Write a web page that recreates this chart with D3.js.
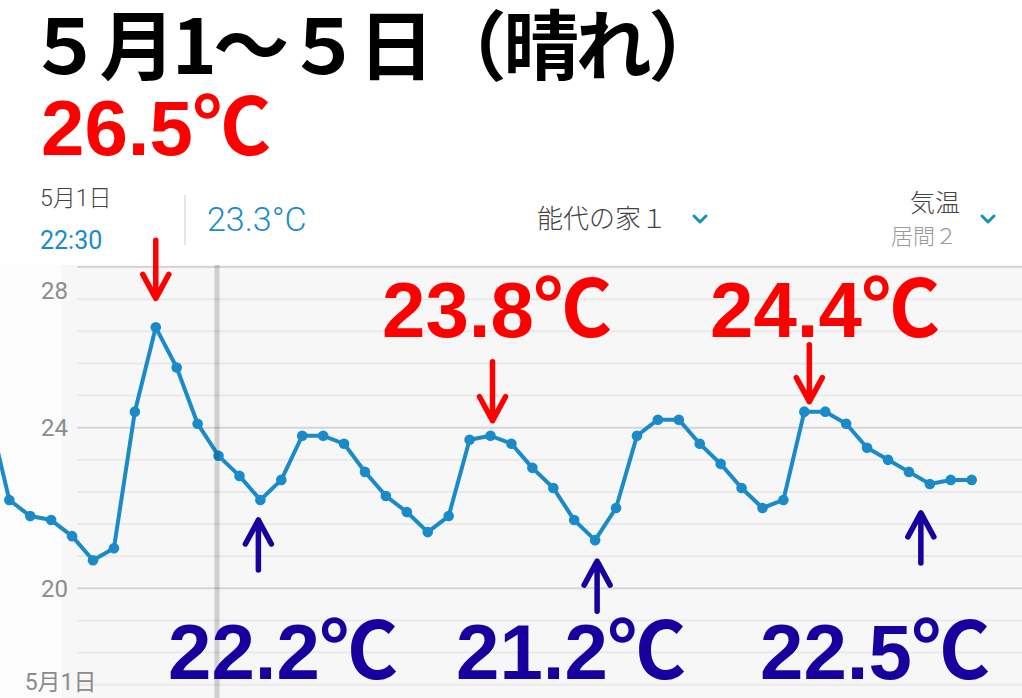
<!DOCTYPE html>
<html><head><meta charset="utf-8">
<script src="https://cdn.jsdelivr.net/npm/d3@7"></script>
<style>body{margin:0;background:#fff;overflow:hidden}</style>
</head><body><svg id="c" width="1022" height="698"></svg>
<script>
// ---- data ----
const temps = [24.4, 22.2, 21.8, 21.7, 21.3, 20.7, 21.0, 24.4, 26.5, 25.5,
               24.1, 23.3, 22.8, 22.2, 22.7, 23.8, 23.8, 23.6, 22.9, 22.3,
               21.9, 21.4, 21.8, 23.7, 23.8, 23.6, 23.0, 22.5, 21.7, 21.2,
               22.0, 23.8, 24.2, 24.2, 23.6, 23.1, 22.5, 22.0, 22.2, 24.4,
               24.4, 24.1, 23.5, 23.2, 22.9, 22.6, 22.7, 22.7];
const startTime = new Date(2019, 3, 30, 13, 30);
const stepHours = 3;
const times = temps.map((_, i) => d3.timeHour.offset(startTime, i * stepHours));
const cursorIndex = 11;
const yGridValues = [17.6, 18.4, 19.2, 20, 20.8, 21.6, 22.4, 23.2, 24, 24.8, 25.6, 26.4, 27.2, 28];
const yMajorValues = [20, 24, 28];
const yTickLabels = ["20", "24", "28"];
const xTickValues = [new Date(2019, 4, 1)];
const xTickLabels = ["5月1日"];
const titleText = "５月1〜５日（晴れ）";
const headerDate = "5月1日", headerTime = "22:30", headerValue = "23.3°C";
const deviceName = "能代の家１", metricName = "気温", roomName = "居間２";
const annIndex = [8, 24, 39, 13, 29, 45];
const annText = ["26.5℃", "23.8℃", "24.4℃", "22.2℃", "21.2℃", "22.5℃"];
const annKind = ["max", "max", "max", "min", "min", "min"];
// ---- layout ----
const annLayout = [
  {dx: 0, gap: 29, len: 58, tx: 41, ty: 155},
  {dx: 2, gap: 15, len: 59, tx: 382, ty: 337},
  {dx: 5, gap: 10, len: 57, tx: 710, ty: 337},
  {dx: -2, gap: 20, len: 50, tx: 168, ty: 679},
  {dx: 2, gap: 21, len: 50, tx: 456, ty: 679},
  {dx: -9, gap: 29, len: 50, tx: 760, ty: 679}
];
const W = 1022, H = 698, chartTop = 265;
const lineColor = "#1a8bc8";

const svg = d3.select("#c");
const x = d3.scaleTime().domain([times[0], times[times.length - 1]]).range([-11.6, 971.7]);
const y = d3.scaleLinear().domain([17.6, 28]).range([684.7, 267.1]);

// backgrounds
svg.append("rect").attr("x", 0).attr("y", 0).attr("width", W).attr("height", H).attr("fill", "#fff");
svg.append("rect").attr("x", 0).attr("y", chartTop).attr("width", W).attr("height", H - chartTop).attr("fill", "#f7f7f7");
svg.append("rect").attr("x", 0).attr("y", chartTop).attr("width", x(xTickValues[0])).attr("height", H - chartTop).attr("fill", "#fcfcfc");

// grid
svg.append("g").selectAll("line").data(yGridValues).join("line")
  .attr("x1", 77).attr("x2", W)
  .attr("y1", d => y(d)).attr("y2", d => y(d))
  .attr("stroke", d => yMajorValues.includes(d) ? "#d6d6d6" : "#e9e9e9")
  .attr("stroke-width", 2);

// y labels
svg.append("g").selectAll("text").data(yMajorValues).join("text")
  .attr("x", 68).attr("y", d => Math.max(y(d), chartTop + 25))
  .attr("dy", "0.36em").attr("text-anchor", "end")
  .attr("font-family", "Roboto, 'Noto Sans', sans-serif").attr("font-size", 24)
  .attr("fill", "#8c8c8c")
  .text((d, i) => yTickLabels[i]);

// x labels
svg.append("g").selectAll("text").data(xTickValues).join("text")
  .attr("x", d => x(d) - 1).attr("y", 682).attr("dy", "0.36em").attr("text-anchor", "middle")
  .attr("font-family", "Roboto, 'Noto Sans CJK JP', sans-serif").attr("font-size", 23)
  .attr("fill", "#8c8c8c")
  .text((d, i) => xTickLabels[i]);

// line
const line = d3.line().x((d, i) => x(times[i])).y(d => y(d));
svg.append("path").datum(temps).attr("d", line)
  .attr("fill", "none").attr("stroke", lineColor).attr("stroke-width", 4).attr("stroke-linejoin", "round");
svg.append("g").selectAll("circle").data(temps).join("circle")
  .attr("cx", (d, i) => x(times[i])).attr("cy", d => y(d)).attr("r", 5.3)
  .attr("fill", lineColor);

// cursor
svg.append("line")
  .attr("x1", x(times[cursorIndex]) - 1.5).attr("x2", x(times[cursorIndex]) - 1.5)
  .attr("y1", chartTop).attr("y2", H)
  .attr("stroke", "rgba(0,0,0,0.16)").attr("stroke-width", 5);

// header
const hdrFont = "Roboto, 'Noto Sans CJK JP', sans-serif";
svg.append("text").attr("x", 40).attr("y", 206).attr("font-family", "Roboto, 'Noto Sans CJK JP', sans-serif").attr("font-weight", 300).attr("font-size", 23).attr("fill", "#444").text(headerDate);
svg.append("text").attr("x", 40).attr("y", 249).attr("font-family", hdrFont).attr("font-size", 25).attr("fill", lineColor).text(headerTime);
svg.append("line").attr("x1", 185).attr("x2", 185).attr("y1", 195).attr("y2", 245).attr("stroke", "#dcdcdc").attr("stroke-width", 1.5);
svg.append("text").attr("x", 207).attr("y", 231).attr("font-family", hdrFont).attr("font-weight", 300).attr("font-size", 34).attr("fill", lineColor).text(headerValue);
svg.append("text").attr("x", 537).attr("y", 228).attr("font-family", "'Noto Sans CJK JP', sans-serif").attr("font-weight", 300).attr("font-size", 26).attr("fill", "#444").text(deviceName);
svg.append("text").attr("x", 960).attr("y", 212).attr("text-anchor", "end").attr("font-family", "'Noto Sans CJK JP', sans-serif").attr("font-weight", 300).attr("font-size", 25).attr("fill", "#444").text(metricName);
svg.append("text").attr("x", 957).attr("y", 244).attr("text-anchor", "end").attr("font-family", "'Noto Sans CJK JP', sans-serif").attr("font-weight", 300).attr("font-size", 22).attr("fill", "#9a9a9a").text(roomName);
[[700, 219], [988, 219]].forEach(([cx, cy]) => {
  svg.append("path").attr("d", `M${cx - 6},${cy - 3}L${cx},${cy + 3}L${cx + 6},${cy - 3}`)
    .attr("fill", "none").attr("stroke", lineColor).attr("stroke-width", 3).attr("stroke-linecap", "round").attr("stroke-linejoin", "round");
});

// title
svg.append("text").attr("x", 27).attr("y", 74)
  .attr("font-family", "'Noto Sans CJK JP', sans-serif").attr("font-weight", 700)
  .attr("font-size", 76).attr("letter-spacing", -3.5).attr("fill", "#000").text(titleText);

// annotations
const annColor = {max: "#ff0000", min: "#16009e"};
annIndex.forEach((idx, k) => {
  const L = annLayout[k], kind = annKind[k], col = annColor[kind];
  const ax = x(times[idx]) + L.dx, py = y(temps[idx]);
  let tip, tail;
  if (kind === "max") { tip = py - L.gap; tail = tip - L.len; }
  else { tip = py + L.gap; tail = tip + L.len; }
  const s = kind === "max" ? -1 : 1;
  svg.append("path").attr("d", `M${ax},${tail}L${ax},${tip}M${ax - 13},${tip + s * 24}L${ax},${tip}L${ax + 13},${tip + s * 24}`)
    .attr("fill", "none").attr("stroke", col).attr("stroke-width", 5.5).attr("stroke-linejoin", "round").attr("stroke-linecap", "round");
  svg.append("text").attr("x", L.tx).attr("y", L.ty)
    .attr("font-family", "'Liberation Sans', Arial, 'Noto Sans CJK JP', sans-serif").attr("font-weight", 700)
    .attr("font-size", 78).attr("fill", col).text(annText[k]);
});
</script></body></html>
